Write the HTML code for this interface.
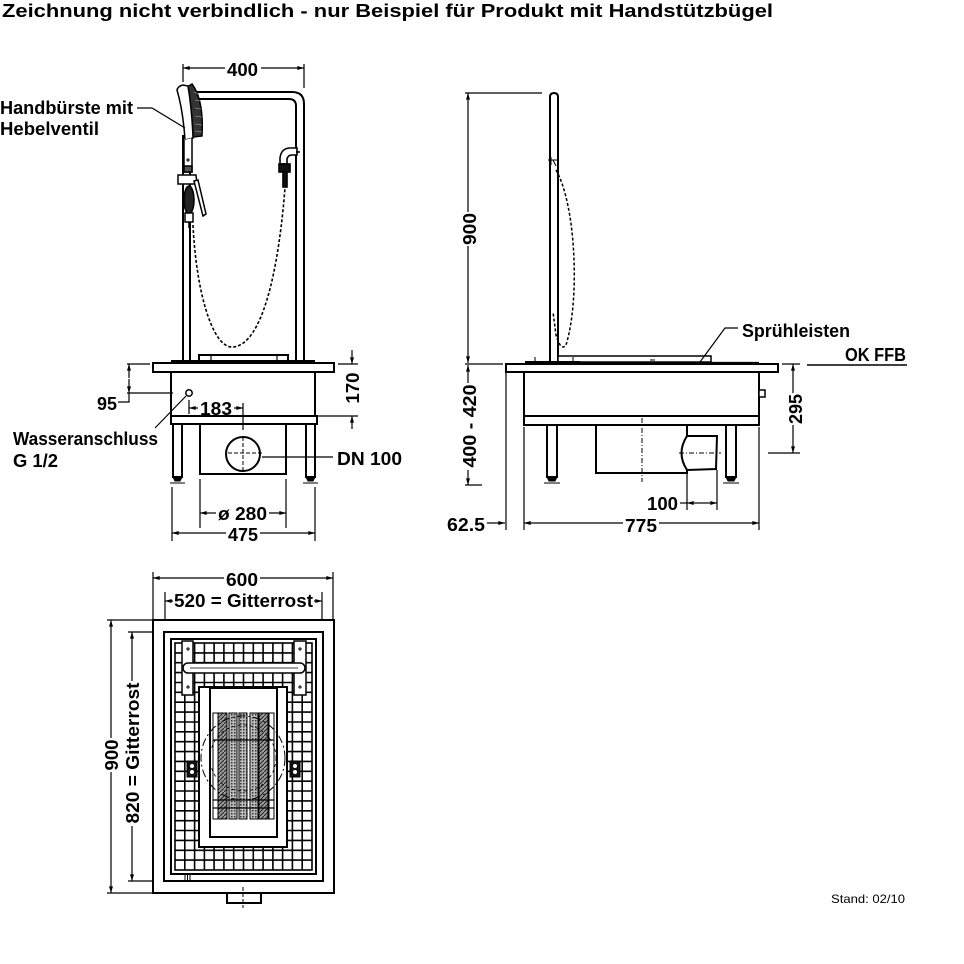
<!DOCTYPE html>
<html><head><meta charset="utf-8"><style>
html,body{margin:0;padding:0;background:#fff}
svg{display:block}
.t{font-family:"Liberation Sans",sans-serif;font-weight:bold;font-size:18px;fill:#000}
</style></head><body>
<svg width="964" height="964" viewBox="0 0 964 964" xmlns="http://www.w3.org/2000/svg">
<defs>
<marker id="a" viewBox="0 0 10 6" refX="10" refY="3" markerWidth="8" markerHeight="4" markerUnits="userSpaceOnUse" orient="auto"><path d="M0,0 L10,3 L0,6z" fill="#000"/></marker>
<pattern id="h" width="4" height="4" patternUnits="userSpaceOnUse"><rect width="4" height="4" fill="#9a9a9a"/><path d="M0,4 L4,0" stroke="#222" stroke-width="1"/></pattern>
<pattern id="d" width="3" height="3" patternUnits="userSpaceOnUse"><rect width="3" height="3" fill="#bbb"/><rect width="1.5" height="1.5" fill="#333"/></pattern>
</defs>
<rect width="964" height="964" fill="#fff"/>

<text class="t" x="2" y="17" font-size="17" textLength="771" lengthAdjust="spacingAndGlyphs">Zeichnung nicht verbindlich - nur Beispiel für Produkt mit Handstützbügel</text>

<!-- ================= FRONT VIEW ================= -->
<g fill="none" stroke="#000" stroke-width="1.2">
  <path d="M183,64V82 M304,64V88"/>
  <path d="M225,68H183" marker-end="url(#a)"/>
  <path d="M261,68H304" marker-end="url(#a)"/>
</g>
<text class="t" x="227" y="76" textLength="31" lengthAdjust="spacingAndGlyphs">400</text>

<g fill="none" stroke="#000" stroke-width="2">
  <path d="M193,92 L292,92 Q304,92 304,104 L304,360"/>
  <path d="M193,99 L289,99 Q296,99 296,106 L296,360"/>
  <path d="M183,135 V360 M190,135 V360"/>
</g>
<g stroke="#000" stroke-width="1.6" fill="#fff">
  <path d="M297,148 L289,148 Q281,149 280,158 L280,164 L287,164 L287,159 Q288,155 292,155 L297,155 Z"/>
  <rect x="279" y="164" width="11" height="8" fill="#111"/>
  <rect x="283" y="172" width="4" height="15" fill="#111"/>
  <path d="M296,152 H300" fill="none"/>
</g>
<path d="M193,225 C196,290 212,347 232,347 C255,347 276,300 285,188" fill="none" stroke="#000" stroke-width="1.6" stroke-dasharray="3,2"/>
<g stroke="#000" stroke-width="1.5">
  <path d="M187,87 L192,84 Q204,100 202,136 L193,137 Q192,110 187,87 Z" fill="#333"/>
  <path d="M194,92 L199,94 M195,100 L201,101 M195,108 L201,109 M195,116 L202,117 M195,124 L202,125 M195,131 L202,132" stroke="#888" stroke-width="0.8"/>
  <path d="M177,90 Q178,86 183,85 L188,86 Q192,110 193,138 L185,140 Q183,110 177,90 Z" fill="#fff"/>
  <path d="M184,140 L184,172 L192,172 L192,138" fill="#fff"/>
  <path d="M186,160 h4 M188,158 v4" stroke-width="1"/>
  <rect x="184" y="166" width="8" height="6" fill="#555"/>
  <path d="M178,175 L196,175 L197,184 L178,184 Z" fill="#fff"/>
  <path d="M194,181 L198,180 L206,214 L203,216 Z" fill="#fff"/>
  <ellipse cx="189" cy="200" rx="5" ry="14" fill="#222"/>
  <rect x="185" y="213" width="8" height="9" fill="#fff"/>
  <path d="M189,222 V228" fill="none"/>
</g>
<text class="t" x="0" y="114" textLength="133" lengthAdjust="spacingAndGlyphs">Handbürste mit</text>
<text class="t" x="0" y="135" textLength="99" lengthAdjust="spacingAndGlyphs">Hebelventil</text>
<path d="M137,108 H152 L185,128" fill="none" stroke="#000" stroke-width="1.2"/>

<g stroke="#000" stroke-width="2" fill="#fff">
  <rect x="199" y="355" width="89" height="7"/>
  <path d="M211,355V362 M277,355V362" fill="none" stroke-width="1.2"/>
  <rect x="171" y="360" width="144" height="3" fill="#000" stroke-width="0"/>
  <rect x="153" y="363" width="181" height="9"/>
  <rect x="171" y="372" width="144" height="44"/>
  <rect x="171" y="416" width="146" height="8"/>
  <rect x="173" y="424" width="9" height="53"/>
  <rect x="306" y="424" width="9" height="53"/>
  <rect x="200" y="424" width="86" height="50"/>
</g>
<g fill="#000" stroke="#000" stroke-width="1">
  <path d="M173,477 h9 l-2,4 h-5 z M170,483 H185" />
  <path d="M306,477 h9 l-2,4 h-5 z M303,483 H318" />
</g>
<circle cx="243" cy="454" r="17" fill="#fff" stroke="#000" stroke-width="2"/>
<path d="M228,453 H264 M243,437 V473" stroke="#000" stroke-width="1" stroke-dasharray="4,2" fill="none"/>
<path d="M243,403 V430" stroke="#000" stroke-width="1.2"/>
<path d="M262,457 H333" stroke="#000" stroke-width="1.2"/>
<text class="t" x="337" y="465" textLength="65" lengthAdjust="spacingAndGlyphs">DN 100</text>
<circle cx="189" cy="393" r="3.2" fill="#fff" stroke="#000" stroke-width="1.5"/>
<path d="M186,396 L155,428" stroke="#000" stroke-width="1.2"/>
<text class="t" x="13" y="445" textLength="145" lengthAdjust="spacingAndGlyphs">Wasseranschluss</text>
<text class="t" x="13" y="467" textLength="45" lengthAdjust="spacingAndGlyphs">G 1/2</text>
<g fill="none" stroke="#000" stroke-width="1.2">
  <path d="M127,364 H150 M127,393 H173"/>
  <path d="M129,378 V364" marker-end="url(#a)"/>
  <path d="M129,379 V393" marker-end="url(#a)"/>
  <path d="M129,393 V402 H118"/>
</g>
<text class="t" x="97" y="410" textLength="20" lengthAdjust="spacingAndGlyphs">95</text>
<g fill="none" stroke="#000" stroke-width="1.2">
  <path d="M189,400 V414"/>
  <path d="M198,408 H189" marker-end="url(#a)"/>
  <path d="M234,408 H243" marker-end="url(#a)"/>
</g>
<text class="t" x="200" y="415" textLength="32" lengthAdjust="spacingAndGlyphs">183</text>
<g fill="none" stroke="#000" stroke-width="1.2">
  <path d="M338,364 H358 M318,416 H358"/>
  <path d="M352,350 V364" marker-end="url(#a)"/>
  <path d="M352,429 V416" marker-end="url(#a)"/>
</g>
<text class="t" transform="translate(359,388) rotate(-90)" x="0" y="0" text-anchor="middle" textLength="31" lengthAdjust="spacingAndGlyphs">170</text>
<g fill="none" stroke="#000" stroke-width="1.2">
  <path d="M200,479 V528 M286,479 V528"/>
  <path d="M216,513 H200" marker-end="url(#a)"/>
  <path d="M269,513 H286" marker-end="url(#a)"/>
  <path d="M172,487 V541 M315,487 V541"/>
  <path d="M226,533 H172" marker-end="url(#a)"/>
  <path d="M260,533 H315" marker-end="url(#a)"/>
</g>
<text class="t" x="218" y="520" textLength="49" lengthAdjust="spacingAndGlyphs">ø 280</text>
<text class="t" x="228" y="541" textLength="30" lengthAdjust="spacingAndGlyphs">475</text>

<!-- ================= SIDE VIEW ================= -->
<g fill="none" stroke="#000" stroke-width="1.2">
  <path d="M465,93 H542 M465,364 H503 M465,485 H482"/>
  <path d="M468,212 V93" marker-end="url(#a)"/>
  <path d="M468,246 V363" marker-end="url(#a)"/>
  <path d="M468,383 V365" marker-end="url(#a)"/>
  <path d="M468,470 V485" marker-end="url(#a)"/>
</g>
<text class="t" transform="translate(476,229) rotate(-90)" text-anchor="middle" textLength="32" lengthAdjust="spacingAndGlyphs">900</text>
<text class="t" transform="translate(476,426) rotate(-90)" text-anchor="middle" textLength="83" lengthAdjust="spacingAndGlyphs">400 - 420</text>
<path d="M550,363 V97 Q550,93 554,93 Q558,93 558,97 V363" fill="#fff" stroke="#000" stroke-width="2"/>
<path d="M548,160 h9 M551,157 v8 M553,160 l3,6" stroke="#000" stroke-width="1" fill="none"/>
<path d="M556,170 C576,205 580,300 566,345 Q561,352 556,335 L553,312" fill="none" stroke="#000" stroke-width="1.5" stroke-dasharray="3,2"/>
<rect x="558" y="356" width="153" height="6" fill="#fff" stroke="#000" stroke-width="1.5"/>
<path d="M650,360 h5" stroke="#000" stroke-width="1"/>
<path d="M700,362 L725,328 H738" fill="none" stroke="#000" stroke-width="1.2"/>
<text class="t" x="742" y="337" textLength="108" lengthAdjust="spacingAndGlyphs">Sprühleisten</text>
<path d="M807,365 H907" stroke="#000" stroke-width="1.5"/>
<text class="t" x="845" y="361" textLength="61" lengthAdjust="spacingAndGlyphs">OK FFB</text>
<g stroke="#000" stroke-width="2" fill="#fff">
  <rect x="525" y="361" width="55" height="3" fill="#000" stroke-width="0"/>
  <path d="M580,362.5 H759" fill="none" stroke-width="1.2"/>
  <path d="M535,357 V363 M573,357 V363" fill="none" stroke-width="1"/>
  <rect x="506" y="364" width="272" height="8"/>
  <rect x="524" y="372" width="235" height="44"/>
  <rect x="524" y="416" width="235" height="9"/>
  <rect x="759" y="390" width="6" height="7" stroke-width="1.5"/>
  <rect x="547" y="425" width="10" height="52"/>
  <rect x="726" y="425" width="10" height="52"/>
  <rect x="596" y="425" width="91" height="48"/>
  <path d="M687,436 L717,436 L716,469 L687,470 Q676,453 687,436 Z"/>
</g>
<g fill="#000" stroke="#000" stroke-width="1">
  <path d="M547,477 h10 l-2,4 h-6 z M544,483 H560"/>
  <path d="M726,477 h10 l-2,4 h-6 z M723,483 H739"/>
</g>
<path d="M642,418 V482 M679,453 H721" stroke="#000" stroke-width="1" stroke-dasharray="5,2,1,2" fill="none"/>
<g fill="none" stroke="#000" stroke-width="1.2">
  <path d="M782,364 H800 M768,453 H800"/>
  <path d="M793,393 V364" marker-end="url(#a)"/>
  <path d="M793,425 V453" marker-end="url(#a)"/>
</g>
<text class="t" transform="translate(802,409) rotate(-90)" text-anchor="middle" textLength="30" lengthAdjust="spacingAndGlyphs">295</text>
<g fill="none" stroke="#000" stroke-width="1.2">
  <path d="M506,372 V530"/>
  <path d="M487,523 H505" marker-end="url(#a)"/>
  <path d="M524,427 V530 M759,427 V530"/>
  <path d="M623,523 H524" marker-end="url(#a)"/>
  <path d="M659,523 H759" marker-end="url(#a)"/>
  <path d="M687,474 V510 M717,470 V510"/>
  <path d="M680,503 H687"/>
  <path d="M702,503 H687" marker-end="url(#a)"/>
  <path d="M702,503 H717" marker-end="url(#a)"/>
</g>
<text class="t" x="447" y="531" textLength="38" lengthAdjust="spacingAndGlyphs">62.5</text>
<text class="t" x="625" y="532" textLength="32" lengthAdjust="spacingAndGlyphs">775</text>
<text class="t" x="647" y="510" textLength="31" lengthAdjust="spacingAndGlyphs">100</text>

<!-- ================= PLAN VIEW ================= -->
<g fill="none" stroke="#000" stroke-width="1.2">
  <path d="M153,572 V620 M333,572 V620"/>
  <path d="M224,578 H153" marker-end="url(#a)"/>
  <path d="M260,578 H333" marker-end="url(#a)"/>
  <path d="M165,592 V632 M322,592 V632"/>
  <path d="M173,601 H165" marker-end="url(#a)"/>
  <path d="M314,601 H322" marker-end="url(#a)"/>
  <path d="M107,620 H153 M107,893 H153"/>
  <path d="M111,738 V620" marker-end="url(#a)"/>
  <path d="M111,772 V893" marker-end="url(#a)"/>
  <path d="M128,632 H164 M128,881 H164"/>
  <path d="M132,681 V632" marker-end="url(#a)"/>
  <path d="M132,826 V881" marker-end="url(#a)"/>
</g>
<text class="t" x="226" y="586" textLength="32" lengthAdjust="spacingAndGlyphs">600</text>
<text class="t" x="174" y="607" textLength="139" lengthAdjust="spacingAndGlyphs">520 = Gitterrost</text>
<text class="t" transform="translate(118,755) rotate(-90)" text-anchor="middle" textLength="31" lengthAdjust="spacingAndGlyphs">900</text>
<text class="t" transform="translate(139,753) rotate(-90)" text-anchor="middle" textLength="141" lengthAdjust="spacingAndGlyphs">820 = Gitterrost</text>

<g stroke="#000" fill="#fff">
  <rect x="153" y="620" width="181" height="273" stroke-width="2"/>
  <rect x="164" y="632" width="159" height="249" stroke-width="2"/>
  <rect x="171" y="639" width="145" height="235" stroke-width="2"/>
  <rect x="175" y="643" width="137" height="227" stroke-width="1.6"/>
</g>
<path stroke="#000" stroke-width="1.6" fill="none" d="M184.8,643V870 M194.6,643V870 M204.4,643V870 M214.1,643V870 M223.9,643V870 M233.7,643V870 M243.5,643V870 M253.3,643V870 M263.1,643V870 M272.9,643V870 M282.6,643V870 M292.4,643V870 M302.2,643V870 M175,652.9H312 M175,662.7H312 M175,672.6H312 M175,682.5H312 M175,692.3H312 M175,702.2H312 M175,712.1H312 M175,722H312 M175,731.8H312 M175,741.7H312 M175,751.6H312 M175,761.4H312 M175,771.3H312 M175,781.2H312 M175,791H312 M175,800.9H312 M175,810.8H312 M175,820.7H312 M175,830.5H312 M175,840.4H312 M175,850.3H312 M175,860.1H312"/>
<rect x="199" y="687" width="88" height="160" fill="#fff" stroke="#000" stroke-width="2"/>
<rect x="210" y="688" width="67" height="149" fill="#fff" stroke="#000" stroke-width="2"/>
<g stroke="#000" stroke-width="1">
  <rect x="213" y="713" width="5" height="106" fill="#fff"/>
  <rect x="218" y="713" width="9" height="106" fill="url(#h)"/>
  <rect x="229" y="713" width="8" height="106" fill="url(#d)"/>
  <rect x="239" y="713" width="8" height="106" fill="url(#d)"/>
  <rect x="250" y="713" width="8" height="106" fill="url(#d)"/>
  <rect x="259" y="713" width="9" height="106" fill="url(#h)"/>
  <rect x="269" y="713" width="5" height="106" fill="#fff"/>
  <path d="M213,740 H274 M213,800 H274 M213,808 H274" fill="none" stroke-width="1.2"/>
</g>
<circle cx="243" cy="758" r="42" fill="none" stroke="#000" stroke-width="1" stroke-dasharray="8,3,2,3"/>
<circle cx="243" cy="758" r="33" fill="none" stroke="#000" stroke-width="0.8" stroke-dasharray="3,3"/>
<g fill="#111" stroke="#000">
  <rect x="187" y="761" width="10" height="16"/>
  <rect x="290" y="761" width="10" height="16"/>
</g>
<g fill="#fff">
  <circle cx="192" cy="766" r="2"/><circle cx="192" cy="772" r="2"/>
  <circle cx="295" cy="766" r="2"/><circle cx="295" cy="772" r="2"/>
</g>
<g stroke="#000" fill="#fff" stroke-width="1.5">
  <rect x="182" y="641" width="11" height="54"/>
  <rect x="294" y="641" width="12" height="54"/>
  <rect x="183" y="663" width="122" height="10" rx="5"/>
  <path d="M190,668 H298" fill="none" stroke-width="0.8"/>
</g>
<g stroke="#000" stroke-width="1" fill="none">
  <path d="M186,649h4M188,647v4 M186,687h4M188,685v4 M298,649h4M300,647v4 M298,687h4M300,685v4"/>
  <path d="M185,875 v5 M187.5,875 v5 M190,875 v5"/>
</g>
<rect x="227" y="893" width="34" height="10" fill="#fff" stroke="#000" stroke-width="2"/>
<path d="M243,887 V908" stroke="#000" stroke-width="1" stroke-dasharray="4,2"/>

<text x="831" y="903" font-family="Liberation Sans, sans-serif" font-size="12" fill="#000" textLength="74" lengthAdjust="spacingAndGlyphs">Stand: 02/10</text>
</svg>
</body></html>
